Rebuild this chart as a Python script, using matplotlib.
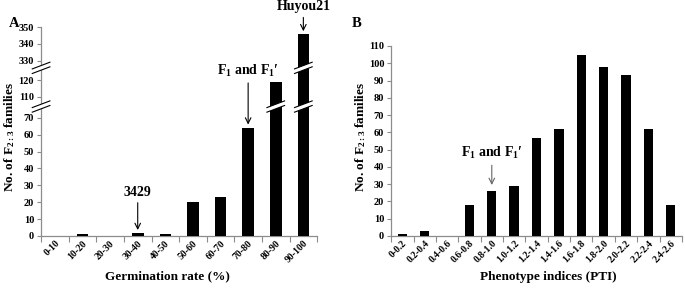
import numpy as np
import matplotlib
matplotlib.use('Agg')
import matplotlib.pyplot as plt
from matplotlib.transforms import blended_transform_factory
from matplotlib.patches import Polygon

plt.rcParams['font.family'] = ['Liberation Serif', 'DejaVu Serif']
plt.rcParams['font.weight'] = 'bold'
plt.rcParams['mathtext.fontset'] = 'custom'
plt.rcParams['mathtext.rm'] = 'Liberation Serif:bold'
plt.rcParams['mathtext.it'] = 'Liberation Serif:bold'
plt.rcParams['mathtext.bf'] = 'Liberation Serif:bold'
plt.rcParams['mathtext.default'] = 'rm'

# data
germ_bins = ['0-10', '10-20', '20-30', '30-40', '40-50', '50-60',
             '60-70', '70-80', '80-90', '90-100']
germ_counts = [0, 1, 0, 2, 1, 20, 23, 64, 119, 346]

pti_bins = ['0-0.2', '0.2-0.4', '0.4-0.6', '0.6-0.8', '0.8-1.0', '1.0-1.2',
            '1.2-1.4', '1.4-1.6', '1.6-1.8', '1.8-2.0', '2.0-2.2', '2.2-2.4',
            '2.4-2.6']
pti_counts = [1, 3, 0, 18, 26, 29, 57, 62, 105, 98, 93, 62, 18]

# broken y axis for panel A: 0-76, 105-126, 327-350
brk_in = [-1000, 0, 76, 105, 126, 327, 2000]
brk_out = [-1000, 0, 76, 77.4, 98.4, 100.8, 100.8 + 1673]


def fwd(v):
    return np.interp(v, brk_in, brk_out)


def inv(v):
    return np.interp(v, brk_out, brk_in)


AX_GRAY = '#8c8c8c'


def style_axes(ax, n):
    for s in ['top', 'right']:
        ax.spines[s].set_visible(False)
    for s in ['left', 'bottom']:
        ax.spines[s].set_color(AX_GRAY)
        ax.spines[s].set_linewidth(0.9)
    ax.set_xlim(-0.5, n - 0.5)
    ax.set_xticks(np.arange(-0.5, n, 1))
    ax.set_xticklabels([])
    ax.set_xticks(np.arange(n), minor=True)
    ax.tick_params(axis='x', which='major', length=4, color=AX_GRAY, direction='out')
    ax.tick_params(axis='x', which='minor', length=0, pad=2)
    ax.tick_params(axis='y', length=3, color=AX_GRAY, direction='out', labelsize=7.5, pad=2)


def slash(ax, x0, x1, yc, trans):
    h, g = 0.016, 0.011
    pts = [(x0, yc - g - h), (x1, yc - g + h), (x1, yc + g + h), (x0, yc + g - h)]
    ax.add_patch(Polygon(pts, closed=True, facecolor='white', edgecolor='none',
                         transform=trans, clip_on=False, zorder=5))
    for d in (-g, g):
        ax.plot([x0, x1], [yc + d - h, yc + d + h], color='black', lw=0.8,
                transform=trans, clip_on=False, zorder=6)


fig = plt.figure(figsize=(6.85, 2.92), dpi=100)

# panel A
ax1 = fig.add_axes([0.060, 0.192, 0.403, 0.7155])
ax1.set_yscale('function', functions=(fwd, inv))
x1 = np.arange(len(germ_bins))
ax1.bar(x1, germ_counts, width=0.42, color='black', zorder=3)
ax1.set_ylim(0, 350)
ax1.set_yticks([0, 10, 20, 30, 40, 50, 60, 70, 110, 120, 330, 340, 350])
ax1.yaxis.set_minor_locator(matplotlib.ticker.NullLocator())
ax1.yaxis.set_major_formatter(matplotlib.ticker.FormatStrFormatter('%d'))
style_axes(ax1, len(germ_bins))
ax1.set_xticklabels(germ_bins, minor=True, rotation=45, ha='right',
                    rotation_mode='anchor', fontsize=7)

span = fwd(350) - fwd(0)
gap_lo = (fwd(90) - fwd(0)) / span
gap_hi = (fwd(226) - fwd(0)) / span
slash(ax1, -0.032, 0.032, gap_lo, ax1.transAxes)
slash(ax1, -0.032, 0.032, gap_hi, ax1.transAxes)
bt = blended_transform_factory(ax1.transData, ax1.transAxes)
slash(ax1, 8 - 0.32, 8 + 0.32, gap_lo, bt)
slash(ax1, 9 - 0.32, 9 + 0.32, gap_lo, bt)
slash(ax1, 9 - 0.32, 9 + 0.32, gap_hi, bt)

arrow_k = dict(arrowstyle='->', color='black', lw=0.8, shrinkA=1, shrinkB=0)
ax1.annotate('3429', xy=(3, 3.5), xytext=(3, 26), ha='center', va='center',
             fontsize=10, arrowprops=arrow_k)
ax1.annotate(r'F$_1$ and F$_1$′', xy=(7, 66), xytext=(7, 125.5), ha='center',
             va='center', fontsize=10, arrowprops=arrow_k)
ax1.annotate('Huyou21', xy=(9, 347.5), xytext=(9, 362), ha='center', va='center',
             fontsize=10, arrowprops=arrow_k, annotation_clip=False)

# panel B
ax2 = fig.add_axes([0.571, 0.192, 0.4245, 0.6505])
x2 = np.arange(len(pti_bins))
ax2.bar(x2, pti_counts, width=0.42, color='black', zorder=3)
ax2.set_ylim(0, 110)
ax2.set_yticks(np.arange(0, 111, 10))
style_axes(ax2, len(pti_bins))
ax2.set_xticklabels(pti_bins, minor=True, rotation=45, ha='right',
                    rotation_mode='anchor', fontsize=7)
ax2.annotate(r'F$_1$ and F$_1$′', xy=(4, 29.5), xytext=(4, 48), ha='center',
             va='center', fontsize=10,
             arrowprops=dict(arrowstyle='->', color='#666666', lw=0.8,
                             shrinkA=1, shrinkB=0))

# labels
ylab = r'No. of F$_{2:3}$ families'
fig.text(0.0145, 0.53, ylab, rotation=90, ha='center', va='center', fontsize=9.5)
fig.text(0.527, 0.53, ylab, rotation=90, ha='center', va='center', fontsize=9.5)
fig.text(0.245, 0.055, 'Germination rate (%)', ha='center', va='center', fontsize=9.5)
fig.text(0.80, 0.051, 'Phenotype indices (PTI)', ha='center', va='center', fontsize=9.5)
fig.text(0.020, 0.918, 'A', ha='center', va='center', fontsize=10.5)
fig.text(0.521, 0.918, 'B', ha='center', va='center', fontsize=10.5)

fig.savefig('out.png', dpi=100)
